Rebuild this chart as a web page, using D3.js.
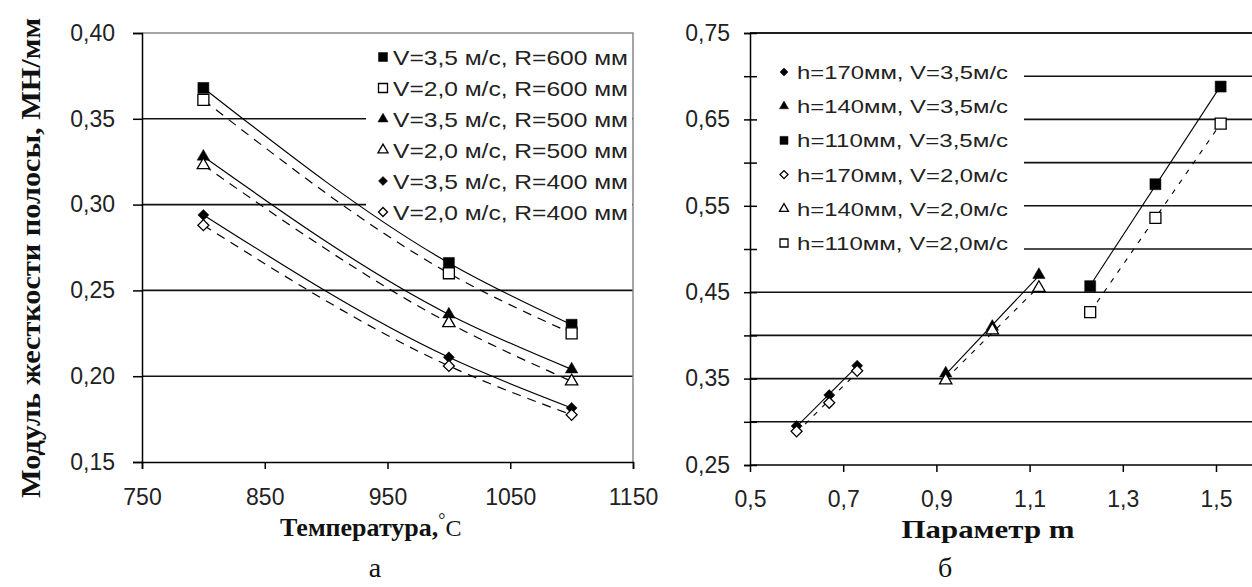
<!DOCTYPE html>
<html>
<head>
<meta charset="utf-8">
<script src="https://cdn.jsdelivr.net/npm/d3@7"></script>
<style>
  body { margin: 0; background: #fff; }
  svg { display: block; }
  .tick text { font-family: "Liberation Sans", Arial, sans-serif; font-size: 23px; fill: #222; }
  .domain { stroke: #000; stroke-width: 1.5; }
  .tick line { stroke: #000; stroke-width: 1.5; }
</style>
</head>
<body>
<script>
// ---- chart a: stiffness vs temperature ----
var tempC = [800, 1000, 1100];
var stiffV35R600 = [0.368, 0.266, 0.230];
var stiffV20R600 = [0.361, 0.260, 0.225];
var stiffV35R500 = [0.328, 0.236, 0.204];
var stiffV20R500 = [0.323, 0.231, 0.197];
var stiffV35R400 = [0.294, 0.211, 0.1815];
var stiffV20R400 = [0.288, 0.206, 0.1775];
var legendA = ["V=3,5 м/с,  R=600 мм", "V=2,0 м/с,  R=600 мм", "V=3,5 м/с,  R=500 мм",
               "V=2,0 м/с,  R=500 мм", "V=3,5 м/с,  R=400 мм", "V=2,0 м/с,  R=400 мм"];
var yTicksA = [0.15, 0.20, 0.25, 0.30, 0.35, 0.40];
var xTicksA = [750, 850, 950, 1050, 1150];

// ---- chart b: stiffness vs parameter m ----
var mH170 = [0.60, 0.67, 0.73];
var mH140 = [0.92, 1.02, 1.12];
var mH110 = [1.23, 1.37, 1.51];
var stiffH170V35 = [0.295, 0.331, 0.365];
var stiffH140V35 = [0.356, 0.410, 0.470];
var stiffH110V35 = [0.457, 0.575, 0.688];
var stiffH170V20 = [0.289, 0.322, 0.359];
var stiffH140V20 = [0.348, 0.406, 0.455];
var stiffH110V20 = [0.427, 0.536, 0.645];
var legendB = ["h=170мм, V=3,5м/с", "h=140мм, V=3,5м/с", "h=110мм, V=3,5м/с",
               "h=170мм, V=2,0м/с", "h=140мм, V=2,0м/с", "h=110мм, V=2,0м/с"];
var yTicksB = [0.25, 0.30, 0.35, 0.40, 0.45, 0.50, 0.55, 0.60, 0.65, 0.70, 0.75];
var xTicksB = [0.5, 0.7, 0.9, 1.1, 1.3, 1.5];

var W = 1252, H = 587;
var svg = d3.select("body").append("svg").attr("width", W).attr("height", H);

var comma2 = function(d){ return d3.format(".2f")(d).replace(".", ","); };
var comma1 = function(d){ return d3.format(".1f")(d).replace(".", ","); };
var serif = "'Liberation Serif', 'Times New Roman', serif";
var sans = "'Liberation Sans', Arial, sans-serif";

// marker drawing: shape + filled or hollow
function marker(g, shape, filled, x, y, s){
  var path;
  if (shape == "square") path = d3.symbol(d3.symbolSquare, s*s)();
  else if (shape == "triangle") path = d3.symbol(d3.symbolTriangle, s*s*0.55)();
  else path = d3.symbol(d3.symbolSquare, s*s*0.5)();
  g.append("path")
    .attr("d", path)
    .attr("transform", "translate(" + x + "," + y + ")" + (shape == "diamond" ? " rotate(45)" : ""))
    .attr("fill", filled ? "#000" : "#fff")
    .attr("stroke", "#000")
    .attr("stroke-width", filled ? 0.5 : 1.3);
}

// ================= chart a =================
var xA = d3.scaleLinear().domain([750, 1150]).range([142, 633]);
var yA = d3.scaleLinear().domain([0.15, 0.40]).range([462, 33]);
var gA = svg.append("g");

// gridlines
gA.append("g").selectAll("line").data([0.20, 0.25, 0.30, 0.35]).enter().append("line")
  .attr("x1", xA(750)).attr("x2", xA(1150))
  .attr("y1", function(d){ return yA(d); }).attr("y2", function(d){ return yA(d); })
  .attr("stroke", "#111").attr("stroke-width", 1.6);
// plot border top/right
gA.append("path")
  .attr("d", "M" + xA(750) + "," + yA(0.40) + "H" + xA(1150) + "V" + yA(0.15))
  .attr("fill", "none").attr("stroke", "#888").attr("stroke-width", 1.5);

// legend background
var legA = { x: 366, y: 34, w: 266, h: 190 };
gA.append("rect").attr("x", legA.x).attr("y", legA.y).attr("width", legA.w).attr("height", legA.h).attr("fill", "#fff");

var seriesA = [
  { v: stiffV35R600, shape: "square", filled: true },
  { v: stiffV20R600, shape: "square", filled: false },
  { v: stiffV35R500, shape: "triangle", filled: true },
  { v: stiffV20R500, shape: "triangle", filled: false },
  { v: stiffV35R400, shape: "diamond", filled: true },
  { v: stiffV20R400, shape: "diamond", filled: false }
];

var lineA = d3.line().curve(d3.curveMonotoneX)
  .x(function(d){ return xA(d[0]); }).y(function(d){ return yA(d[1]); });

seriesA.forEach(function(s){
  var pts = tempC.map(function(t, i){ return [t, s.v[i]]; });
  gA.append("path").attr("d", lineA(pts))
    .attr("fill", "none").attr("stroke", "#000").attr("stroke-width", 1.2)
    .attr("stroke-dasharray", s.filled ? null : "9,7");
});
seriesA.forEach(function(s){
  tempC.forEach(function(t, i){ marker(gA, s.shape, s.filled, xA(t), yA(s.v[i]), 11); });
});

// legend items
legendA.forEach(function(txt, i){
  var cy = 57 + i * 31;
  marker(gA, seriesA[i].shape, seriesA[i].filled, 383, cy, 9);
  gA.append("text").attr("x", 393).attr("y", cy + 8)
    .attr("font-family", sans).attr("font-size", 21).attr("fill", "#222")
    .attr("textLength", 235).attr("lengthAdjust", "spacingAndGlyphs")
    .text(txt);
});

// axes
var yAxisA = d3.axisLeft(yA).tickValues(yTicksA).tickSize(9).tickPadding(18).tickFormat(comma2);
gA.append("g").attr("transform", "translate(" + xA(750) + ",0)").call(yAxisA);
var xAxisA = d3.axisBottom(xA).tickValues(xTicksA).tickSize(7).tickPadding(20).tickFormat(d3.format("d"));
gA.append("g").attr("transform", "translate(0," + yA(0.15) + ")").call(xAxisA);

// titles
gA.append("text")
  .attr("transform", "translate(40,258) rotate(-90)")
  .attr("text-anchor", "middle")
  .attr("font-family", serif).attr("font-weight", "bold").attr("font-size", 27).attr("fill", "#111")
  .attr("textLength", 480).attr("lengthAdjust", "spacingAndGlyphs")
  .text("Модуль жесткости полосы, МН/мм");

var tA = gA.append("text").attr("x", 280).attr("y", 536)
  .attr("font-family", serif).attr("font-size", 26).attr("fill", "#111");
tA.append("tspan").attr("font-weight", "bold").text("Температура,");
tA.append("tspan").attr("font-size", 18).attr("dy", -10).text("°");
tA.append("tspan").attr("font-size", 24).attr("dy", 10).text("С");

gA.append("text").attr("x", 375).attr("y", 577).attr("text-anchor", "middle")
  .attr("font-family", serif).attr("font-size", 28).attr("fill", "#111").text("а");

// ================= chart b =================
var xB = d3.scaleLinear().domain([0.5, 1.5]).range([750, 1216]);
var yB = d3.scaleLinear().domain([0.25, 0.75]).range([465, 33]);
var gB = svg.append("g");
var legB = { x: 751, y: 34, w: 273, h: 228 };

gB.append("g").selectAll("line").data(yTicksB.slice(1)).enter().append("line")
  .attr("x1", xB(0.5)).attr("x2", W)
  .attr("y1", function(d){ return yB(d); }).attr("y2", function(d){ return yB(d); })
  .attr("stroke", "#111").attr("stroke-width", 1.6);
gB.append("rect").attr("x", legB.x).attr("y", legB.y).attr("width", legB.w).attr("height", legB.h).attr("fill", "#fff");

var seriesB = [
  { m: mH170, v: stiffH170V35, shape: "diamond", filled: true },
  { m: mH140, v: stiffH140V35, shape: "triangle", filled: true },
  { m: mH110, v: stiffH110V35, shape: "square", filled: true },
  { m: mH170, v: stiffH170V20, shape: "diamond", filled: false },
  { m: mH140, v: stiffH140V20, shape: "triangle", filled: false },
  { m: mH110, v: stiffH110V20, shape: "square", filled: false }
];

// linear trend per series
seriesB.forEach(function(s){
  var mx = d3.mean(s.m), my = d3.mean(s.v);
  var num = d3.sum(s.m, function(x, i){ return (x - mx) * (s.v[i] - my); });
  var den = d3.sum(s.m, function(x){ return (x - mx) * (x - mx); });
  var b = num / den, a = my - b * mx;
  var x0 = s.m[0], x1 = s.m[s.m.length - 1];
  gB.append("line")
    .attr("x1", xB(x0)).attr("y1", yB(a + b * x0))
    .attr("x2", xB(x1)).attr("y2", yB(a + b * x1))
    .attr("stroke", "#000").attr("stroke-width", 1.1)
    .attr("stroke-dasharray", s.filled ? null : "5,7");
});
seriesB.forEach(function(s){
  s.m.forEach(function(x, i){ marker(gB, s.shape, s.filled, xB(x), yB(s.v[i]), 11); });
});

legendB.forEach(function(txt, i){
  var cy = 72 + i * 34.2;
  marker(gB, seriesB[i].shape, seriesB[i].filled, 784, cy, 8);
  gB.append("text").attr("x", 797).attr("y", cy + 7)
    .attr("font-family", sans).attr("font-size", 18).attr("fill", "#222")
    .attr("textLength", 211).attr("lengthAdjust", "spacingAndGlyphs")
    .text(txt);
});

// top border
gB.append("line").attr("x1", xB(0.5)).attr("x2", W).attr("y1", yB(0.75)).attr("y2", yB(0.75))
  .attr("stroke", "#111").attr("stroke-width", 1.6);

// y axis: crossing ticks, labels every other one
var yAxisB = d3.axisLeft(yB).tickValues(yTicksB).tickSize(6).tickPadding(14)
  .tickFormat(function(d, i){ return i % 2 == 0 ? comma2(d) : ""; });
var yAxB = gB.append("g").attr("transform", "translate(" + xB(0.5) + ",0)").call(yAxisB);
yAxB.selectAll(".tick line").attr("x1", 7);

var xAxisB = d3.axisBottom(xB).tickValues(xTicksB).tickSize(7).tickPadding(19).tickFormat(comma1);
var xAxB = gB.append("g").attr("transform", "translate(0," + yB(0.25) + ")").call(xAxisB);
xAxB.select(".domain").attr("d", "M" + xB(0.5) + ",0H" + W);

gB.append("text").attr("x", 988).attr("y", 538).attr("text-anchor", "middle")
  .attr("font-family", serif).attr("font-weight", "bold").attr("font-size", 26).attr("fill", "#111")
  .attr("textLength", 173).attr("lengthAdjust", "spacingAndGlyphs")
  .text("Параметр  m");

gB.append("text").attr("x", 945).attr("y", 577).attr("text-anchor", "middle")
  .attr("font-family", serif).attr("font-size", 28).attr("fill", "#111").text("б");
</script>
</body>
</html>
